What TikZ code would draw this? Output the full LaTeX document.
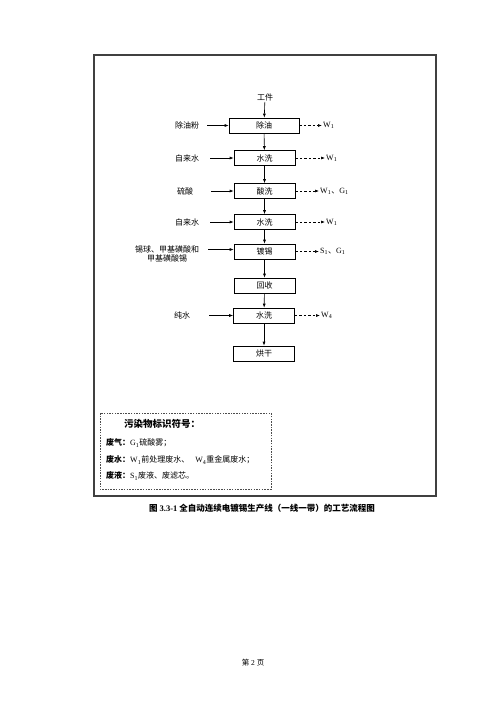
\documentclass[tikz,border=0pt]{standalone}
\usepackage{fontspec}
\setmainfont{Liberation Serif}
\newfontfamily\cjk{Noto Sans CJK SC}
\usetikzlibrary{arrows.meta}
\begin{document}
\begin{tikzpicture}[x=1pt,y=-1pt,
  procbox/.style={draw,line width=0.6pt,minimum height=15pt,inner sep=0pt,font=\cjk\fontsize{8}{9}\selectfont},
  inlabel/.style={font=\cjk\fontsize{8}{9}\selectfont,inner sep=1pt},
  outlabel/.style={font=\fontsize{8}{9}\selectfont,inner sep=1pt,anchor=west},
  flow/.style={-{Latex[length=4pt,width=3pt]},line width=0.6pt},
  waste/.style={-{Latex[length=4pt,width=3pt]},line width=0.6pt,dash pattern=on 2.5pt off 2pt},
  legtext/.style={font=\fontsize{8}{9}\selectfont,anchor=west,inner sep=0pt}]
\useasboundingbox (0,0) rectangle (500,707);
\fill[white] (0,0) rectangle (500,707);
% outer frame
\draw[line width=1.3pt,black!75] (94,55) rectangle (436,496);
% process boxes
\node[procbox,minimum width=70pt] (b1) at (264,125.5) {除油};
\node[procbox,minimum width=61pt] (b2) at (264.5,158) {水洗};
\node[procbox,minimum width=61pt] (b3) at (264.5,191) {酸洗};
\node[procbox,minimum width=61pt] (b4) at (264.5,222) {水洗};
\node[procbox,minimum width=61pt] (b5) at (264.5,251.5) {镀锡};
\node[procbox,minimum width=61pt] (b6) at (264.5,285.5) {回收};
\node[procbox,minimum width=61pt] (b7) at (264,315.5) {水洗};
\node[procbox,minimum width=61pt] (b8) at (264,353.5) {烘干};
% top input
\node[inlabel] (gj) at (265,97) {工件};
\draw[flow] (gj) -- (b1);
\draw[flow] (b1) -- (b2);
\draw[flow] (b2) -- (b3);
\draw[flow] (b3) -- (b4);
\draw[flow] (b4) -- (b5);
\draw[flow] (b5) -- (b6);
\draw[flow] (b6) -- (b7);
\draw[flow] (b7) -- (b8);
% left inputs
\node[inlabel] (i1) at (187,125.5) {除油粉};
\node[inlabel] (i2) at (187,158) {自来水};
\node[inlabel] (i3) at (185,191) {硫酸};
\node[inlabel] (i4) at (187,222) {自来水};
\node[inlabel,align=center] (i5) at (167,254) {锡球、甲基磺酸和\\甲基磺酸锡};
\node[inlabel] (i7) at (182,315.5) {纯水};
\coordinate (s1) at (207,125.5);
\coordinate (s2) at (210,158);
\coordinate (s3) at (211,191);
\coordinate (s4) at (210,222);
\coordinate (s5) at (208,249.5);
\coordinate (s7) at (209,315.5);
\draw[flow] (s1) -- (b1.west);
\draw[flow] (s2) -- (b2.west);
\draw[flow] (s3) -- (b3.west);
\draw[flow] (s4) -- (b4.west);
\draw[flow] (s5) -- (b5.west |- s5);
\draw[flow] (s7) -- (b7.west);
% outputs
\node[outlabel] (o1) at (322,125.5) {W\textsubscript{1}};
\node[outlabel] (o2) at (325,158) {W\textsubscript{1}};
\node[outlabel] (o3) at (319,191) {W\textsubscript{1}{\cjk 、}G\textsubscript{1}};
\node[outlabel] (o4) at (325,222) {W\textsubscript{1}};
\node[outlabel] (o5) at (319,251.5) {S\textsubscript{1}{\cjk 、}G\textsubscript{1}};
\node[outlabel] (o7) at (320,315.5) {W\textsubscript{4}};
\draw[waste] (b1.east) -- (o1.west);
\draw[waste] (b2.east) -- (o2.west);
\draw[waste] (b3.east) -- (o3.west);
\draw[waste] (b4.east) -- (o4.west);
\draw[waste] (b5.east) -- (o5.west);
\draw[waste] (b7.east) -- (o7.west);
% legend
\draw[line width=0.6pt,dash pattern=on 1.5pt off 1.2pt,black!70] (100,413) rectangle (271,489);
\node[legtext,font=\cjk\bfseries\fontsize{9.5}{11}\selectfont] (lt) at (124,424) {污染物标识符号：};
\node[legtext] (l1) at (106,443) {{\cjk\bfseries 废气：}G\textsubscript{1}{\cjk 硫酸雾；}};
\node[legtext] (l2) at (106,460) {{\cjk\bfseries 废水：}W\textsubscript{1}{\cjk 前处理废水、}\hspace{6pt}W\textsubscript{4}{\cjk 重金属废水；}};
\node[legtext] (l3) at (106,476) {{\cjk\bfseries 废液：}S\textsubscript{1}{\cjk 废液、废滤芯。}};
% caption
\node[inner sep=0pt] (cap) at (262,508) {\bfseries\fontsize{8.5}{10}\selectfont {\cjk 图} 3.3-1 {\cjk 全自动连续电镀锡生产线（一线一带）的工艺流程图}};
% page number
\node[inner sep=0pt] (pg) at (253,663) {\fontsize{7.5}{9}\selectfont{\cjk 第} 2 {\cjk 页}};
\end{tikzpicture}
\end{document}
